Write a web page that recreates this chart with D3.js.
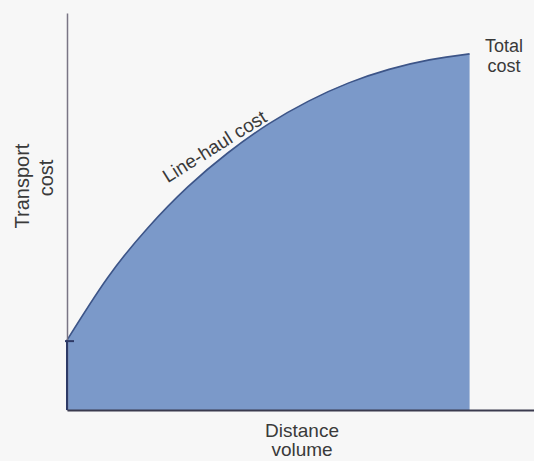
<!DOCTYPE html>
<html>
<head>
<meta charset="utf-8">
<script src="https://cdn.jsdelivr.net/npm/d3@7"></script>
<style>
body { margin: 0; background: #f7f7f7; }
text { font-family: "Liberation Sans", Arial, sans-serif; fill: #3a3a3a; }
</style>
</head>
<body>
<script>
// distance/volume steps and the total cost
var distance = [0, 1, 2, 3, 4, 5, 6, 7, 8, 9, 10];
var totalCost = [1.76, 3.32, 4.58, 5.62, 6.48, 7.20, 7.78, 8.24, 8.58, 8.82, 8.97];
var yTitle = ["Transport", "cost"];
var xTitle = ["Distance", "volume"];
var endLabel = ["Total", "cost"];
var curveLabel = "Line-haul cost";

var width = 534, height = 461;

var svg = d3.select("body").append("svg").attr("width", width).attr("height", height)

var x = d3.scaleLinear().domain([0, 11.6]).range([67, 534]);
var y = d3.scaleLinear().domain([0, 10]).range([410, 13]);

var data = distance.map(function(d, i){ return {d: d, c: totalCost[i]}; });

var area = d3.area()
.x(function(p){ return x(p.d); })
.y0(y(0))
.y1(function(p){ return y(p.c); })
.curve(d3.curveNatural);

var line = d3.line()
.x(function(p){ return x(p.d); })
.y(function(p){ return y(p.c); })
.curve(d3.curveNatural);

svg.append("path").datum(data)
.attr("d", area)
.attr("fill", "#7b99c9");

svg.append("path").datum(data)
.attr("d", line)
.attr("fill", "none")
.attr("stroke", "#3d5588")
.attr("stroke-width", 1.6);

// axes, just the lines
var yAxis = svg.append("g")
.attr("transform", "translate(" + x(0) + ",0)")
.call(d3.axisLeft(y).tickValues([]).tickSizeOuter(0));
yAxis.select(".domain").attr("stroke", "#7a7585").attr("stroke-width", 1.5);

var xAxis = svg.append("g")
.attr("transform", "translate(0," + y(0) + ")")
.call(d3.axisBottom(x).tickValues([]).tickSizeOuter(0));
xAxis.select(".domain").attr("stroke", "#3b3b4f").attr("stroke-width", 2);

// dark left edge of the fill up to the intercept, plus the little tick
svg.append("line")
.attr("x1", x(0)).attr("x2", x(0))
.attr("y1", y(0)).attr("y2", y(totalCost[0]))
.attr("stroke", "#2e3a66")
.attr("stroke-width", 2);

svg.append("line")
.attr("x1", x(0) - 2).attr("x2", x(0) + 7)
.attr("y1", y(totalCost[0]) + 1).attr("y2", y(totalCost[0]) + 1)
.attr("stroke", "#2e3a66")
.attr("stroke-width", 2);

// labels
svg.append("text")
.attr("transform", "translate(" + x(3.75) + "," + y(6.5) + ") rotate(-32)")
.attr("text-anchor", "middle")
.attr("font-size", 19)
.text(curveLabel);

svg.append("text").selectAll("tspan")
.data(endLabel)
.enter().append("tspan")
.attr("x", 504)
.attr("y", function(d, i){ return 52 + i*20; })
.attr("text-anchor", "middle")
.attr("font-size", 18)
.text(function(d){ return d; });

svg.append("text").selectAll("tspan")
.data(xTitle)
.enter().append("tspan")
.attr("x", 302)
.attr("y", function(d, i){ return 437 + i*19; })
.attr("text-anchor", "middle")
.attr("font-size", 19)
.text(function(d){ return d; });

svg.selectAll("text.ytitle")
.data(yTitle)
.enter().append("text")
.attr("class", "ytitle")
.attr("transform", function(d, i){ return "translate(" + (29 + i*24) + "," + (186 - i*8) + ") rotate(-90)"; })
.attr("text-anchor", "middle")
.attr("font-size", 20)
.text(function(d){ return d; });
</script>
</body>
</html>
